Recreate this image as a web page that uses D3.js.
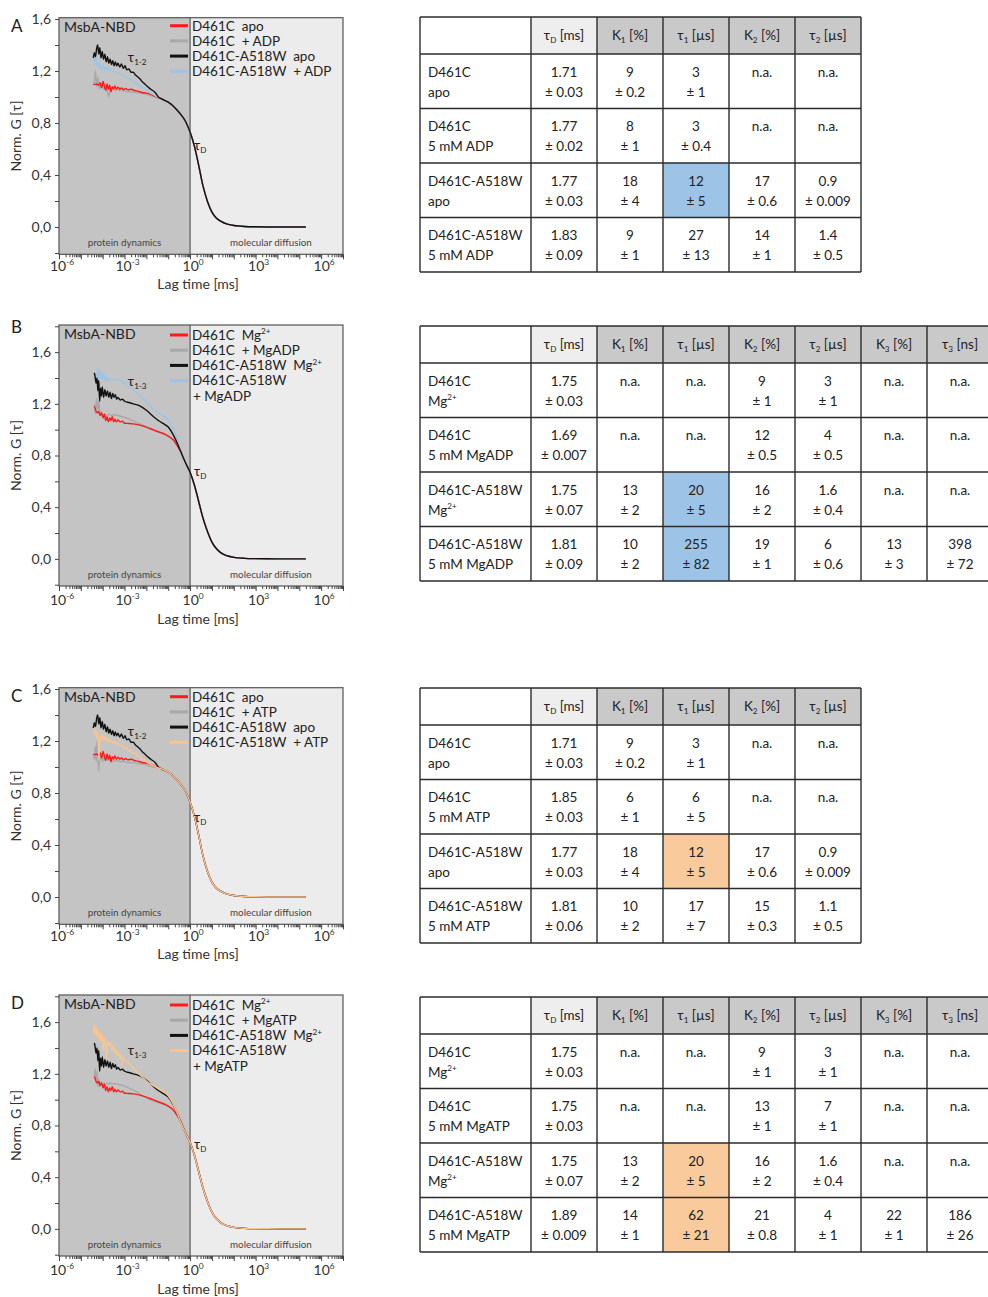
<!DOCTYPE html>
<html>
<head>
<meta charset="utf-8">
<script src="https://cdn.jsdelivr.net/npm/d3@7"></script>
<style>
  body { margin: 0; background: #fff; }
  svg { display: block; font-family: Lato, "Open Sans", sans-serif; }
  text { white-space: pre; }
</style>
</head>
<body>
<svg id="fig" width="988" height="1297"></svg>
<script>
// ---------------------------------------------------------------
// FCS autocorrelation curves: points are [log10(lag / ms), norm. G]
// ---------------------------------------------------------------

// shared diffusion decay (ADP / ATP panels, no Mg2+)
const tailApo = [[-1.3,0.985],[-1.0,0.96],[-0.8,0.935],[-0.6,0.9],[-0.4,0.86],[-0.2,0.81],[0,0.73],[0.2,0.62],[0.4,0.47],[0.6,0.31],[0.8,0.195],[1.0,0.115],[1.2,0.07],[1.4,0.045],[1.7,0.022],[2.0,0.012],[2.5,0.004],[3.0,0.0015],[4.0,0],[5.3,0]];
// shared diffusion decay (Mg2+ panels)
const tailMg = [[-0.2,0.74],[0,0.67],[0.2,0.57],[0.4,0.44],[0.6,0.31],[0.8,0.21],[1.0,0.13],[1.2,0.08],[1.4,0.048],[1.7,0.024],[2.0,0.012],[2.5,0.004],[3.0,0.0015],[4.0,0],[5.3,0]];

const d461cApo = [[-4.43,1.10],[-4.35,1.095],[-4.28,1.10],[-4.2,1.09],[-4.12,1.11],[-4.05,1.07],[-3.98,1.12],[-3.92,1.08],[-3.86,1.05],[-3.8,1.10],[-3.74,1.06],[-3.68,1.09],[-3.62,1.04],[-3.56,1.08],[-3.5,1.06],[-3.44,1.085],[-3.38,1.06],[-3.3,1.075],[-3.22,1.06],[-3.14,1.07],[-3.05,1.055],[-2.95,1.065],[-2.85,1.055],[-2.7,1.06],[-2.55,1.05],[-2.4,1.045],[-2.2,1.035],[-2.0,1.03],[-1.8,1.02],[-1.6,1.005],[-1.45,0.995]].concat(tailApo);

const d461cADP = [[-4.43,1.09],[-4.38,1.12],[-4.33,1.2],[-4.28,1.08],[-4.22,1.15],[-4.16,1.06],[-4.1,1.1],[-4.02,1.08],[-3.95,1.06],[-3.88,1.1],[-3.8,1.05],[-3.72,1.0],[-3.65,1.08],[-3.58,1.06],[-3.5,1.07],[-3.42,1.05],[-3.34,1.06],[-3.25,1.05],[-3.15,1.055],[-3.0,1.045],[-2.85,1.04],[-2.7,1.04],[-2.5,1.035],[-2.3,1.03],[-2.1,1.025],[-1.9,1.015],[-1.7,1.005],[-1.5,0.995]].concat(tailApo);

const a518wApo = [[-4.43,1.30],[-4.38,1.34],[-4.33,1.31],[-4.28,1.37],[-4.23,1.40],[-4.18,1.33],[-4.13,1.38],[-4.08,1.30],[-4.02,1.35],[-3.96,1.29],[-3.9,1.33],[-3.84,1.27],[-3.78,1.31],[-3.72,1.26],[-3.66,1.29],[-3.6,1.25],[-3.54,1.28],[-3.48,1.24],[-3.42,1.27],[-3.36,1.24],[-3.3,1.26],[-3.22,1.23],[-3.14,1.255],[-3.06,1.22],[-2.98,1.24],[-2.9,1.21],[-2.8,1.215],[-2.7,1.19],[-2.6,1.19],[-2.5,1.17],[-2.4,1.155],[-2.3,1.14],[-2.2,1.12],[-2.07,1.10],[-1.95,1.08],[-1.8,1.06],[-1.6,1.035],[-1.45,1.0]].concat(tailApo);

const a518wADP = [[-4.43,1.30],[-4.38,1.27],[-4.33,1.32],[-4.28,1.24],[-4.22,1.27],[-4.16,1.22],[-4.1,1.25],[-4.04,1.21],[-3.98,1.24],[-3.92,1.21],[-3.85,1.23],[-3.78,1.2],[-3.7,1.215],[-3.6,1.2],[-3.45,1.195],[-3.3,1.185],[-3.1,1.17],[-2.9,1.15],[-2.7,1.13],[-2.5,1.11],[-2.3,1.085],[-2.1,1.065],[-1.9,1.04],[-1.7,1.02],[-1.5,1.0]].concat(tailApo);

const d461cATP = [[-4.43,1.10],[-4.38,1.06],[-4.34,1.16],[-4.3,1.04],[-4.26,1.20],[-4.22,1.08],[-4.18,0.97],[-4.14,1.12],[-4.1,1.05],[-4.05,1.09],[-4.0,1.04],[-3.94,1.08],[-3.88,1.05],[-3.8,1.07],[-3.72,1.05],[-3.64,1.06],[-3.56,1.04],[-3.48,1.055],[-3.4,1.045],[-3.3,1.05],[-3.2,1.04],[-3.05,1.045],[-2.9,1.035],[-2.7,1.035],[-2.5,1.03],[-2.3,1.025],[-2.1,1.02],[-1.9,1.01],[-1.7,1.0],[-1.5,0.995]].concat(tailApo);

const a518wATP = [[-4.43,1.28],[-4.38,1.25],[-4.33,1.30],[-4.28,1.22],[-4.22,1.27],[-4.17,1.05],[-4.13,1.24],[-4.08,1.21],[-4.02,1.25],[-3.96,1.2],[-3.9,1.235],[-3.84,1.2],[-3.78,1.22],[-3.7,1.19],[-3.62,1.21],[-3.54,1.18],[-3.46,1.2],[-3.38,1.17],[-3.3,1.185],[-3.2,1.16],[-3.1,1.165],[-3.0,1.14],[-2.9,1.15],[-2.8,1.12],[-2.7,1.13],[-2.6,1.10],[-2.5,1.11],[-2.4,1.08],[-2.3,1.085],[-2.2,1.06],[-2.1,1.055],[-2.0,1.04],[-1.85,1.025],[-1.7,1.01],[-1.5,0.995]].concat(tailApo);

const d461cMg = [[-4.38,1.18],[-4.32,1.15],[-4.25,1.13],[-4.18,1.14],[-4.12,1.11],[-4.05,1.13],[-3.98,1.09],[-3.92,1.12],[-3.86,1.07],[-3.8,1.10],[-3.74,1.06],[-3.68,1.09],[-3.62,1.07],[-3.56,1.10],[-3.5,1.06],[-3.44,1.08],[-3.38,1.06],[-3.3,1.075],[-3.2,1.06],[-3.1,1.065],[-3.0,1.05],[-2.8,1.048],[-2.6,1.045],[-2.3,1.035],[-2.0,1.02],[-1.7,1.0],[-1.4,0.98],[-1.1,0.96],[-0.8,0.925],[-0.6,0.88],[-0.45,0.835]].concat(tailMg);

const d461cMgADP = [[-4.38,1.20],[-4.33,1.12],[-4.28,1.24],[-4.23,1.15],[-4.18,1.22],[-4.12,1.12],[-4.06,1.14],[-4.0,1.11],[-3.9,1.12],[-3.8,1.11],[-3.7,1.12],[-3.6,1.11],[-3.5,1.115],[-3.3,1.11],[-3.1,1.10],[-2.9,1.09],[-2.7,1.075],[-2.5,1.06],[-2.3,1.045],[-2.1,1.03],[-1.9,1.012],[-1.7,0.995],[-1.4,0.98],[-1.1,0.962],[-0.8,0.925],[-0.6,0.88],[-0.45,0.835]].concat(tailMg);

const d461cMgATP = [[-4.38,1.18],[-4.34,1.24],[-4.3,1.12],[-4.26,1.22],[-4.22,1.10],[-4.18,1.16],[-4.13,1.10],[-4.08,1.14],[-4.02,1.11],[-3.95,1.13],[-3.88,1.115],[-3.8,1.13],[-3.72,1.12],[-3.64,1.13],[-3.55,1.12],[-3.45,1.125],[-3.35,1.12],[-3.2,1.115],[-3.0,1.105],[-2.8,1.09],[-2.6,1.075],[-2.4,1.055],[-2.2,1.035],[-2.0,1.015],[-1.8,0.997],[-1.5,0.98],[-1.2,0.962],[-1.0,0.95],[-0.8,0.925],[-0.6,0.88],[-0.45,0.835]].concat(tailMg);

const a518wMg = [[-4.38,1.44],[-4.34,1.40],[-4.3,1.36],[-4.26,1.40],[-4.22,1.30],[-4.18,1.38],[-4.14,1.22],[-4.1,1.32],[-4.06,1.26],[-4.02,1.33],[-3.96,1.25],[-3.9,1.31],[-3.84,1.26],[-3.78,1.30],[-3.72,1.25],[-3.66,1.29],[-3.6,1.24],[-3.54,1.28],[-3.48,1.25],[-3.42,1.27],[-3.36,1.235],[-3.3,1.25],[-3.2,1.23],[-3.1,1.235],[-3.0,1.22],[-2.8,1.21],[-2.6,1.20],[-2.3,1.185],[-2.0,1.15],[-1.8,1.12],[-1.6,1.09],[-1.4,1.065],[-1.2,1.045],[-1.0,1.02],[-0.8,0.97],[-0.6,0.9],[-0.45,0.84]].concat(tailMg);

const a518wMgADP = [[-4.38,1.45],[-4.34,1.40],[-4.3,1.43],[-4.26,1.39],[-4.22,1.48],[-4.18,1.40],[-4.14,1.46],[-4.1,1.39],[-4.05,1.44],[-4.0,1.39],[-3.95,1.43],[-3.9,1.38],[-3.84,1.42],[-3.78,1.38],[-3.7,1.39],[-3.55,1.385],[-3.4,1.39],[-3.2,1.38],[-3.0,1.36],[-2.8,1.33],[-2.6,1.31],[-2.4,1.28],[-2.2,1.25],[-2.0,1.215],[-1.8,1.18],[-1.6,1.15],[-1.4,1.125],[-1.2,1.105],[-1.0,1.08],[-0.8,1.02],[-0.6,0.93],[-0.45,0.845]].concat(tailMg);

const a518wMgATP = [[-4.43,1.52],[-4.39,1.58],[-4.35,1.50],[-4.31,1.56],[-4.27,1.49],[-4.22,1.54],[-4.17,1.47],[-4.12,1.52],[-4.07,1.45],[-4.02,1.50],[-3.97,1.38],[-3.92,1.48],[-3.87,1.44],[-3.82,1.32],[-3.77,1.45],[-3.7,1.42],[-3.64,1.44],[-3.58,1.38],[-3.52,1.42],[-3.46,1.36],[-3.4,1.39],[-3.34,1.34],[-3.28,1.37],[-3.22,1.32],[-3.16,1.35],[-3.1,1.26],[-3.05,1.33],[-3.0,1.31],[-2.8,1.28],[-2.6,1.245],[-2.4,1.21],[-2.2,1.175],[-2.0,1.145],[-1.8,1.12],[-1.6,1.10],[-1.4,1.08],[-1.2,1.06],[-1.0,1.03],[-0.8,0.975],[-0.6,0.9],[-0.45,0.835]].concat(tailMg);

// line colours
const cRed = "#ff1a1a", cGray = "#a8a8a8", cBlack = "#111111", cBlue = "#9cc4e8", cOrange = "#f9c48f";

// axis ticks
const xLabelExps = [-6, -3, 0, 3, 6];

// ---------------------------------------------------------------
// fit-parameter tables
// ---------------------------------------------------------------
const headShort = ["τ_{D} [ms]", "K_{1} [%]", "τ_{1} [µs]", "K_{2} [%]", "τ_{2} [µs]"];
const headLong = headShort.concat(["K_{3} [%]", "τ_{3} [ns]"]);

const rowsA = [["D461C", "apo"], ["D461C", "5 mM ADP"], ["D461C-A518W", "apo"], ["D461C-A518W", "5 mM ADP"]];
const rowsB = [["D461C", "Mg^{2+}"], ["D461C", "5 mM MgADP"], ["D461C-A518W", "Mg^{2+}"], ["D461C-A518W", "5 mM MgADP"]];
const rowsC = [["D461C", "apo"], ["D461C", "5 mM ATP"], ["D461C-A518W", "apo"], ["D461C-A518W", "5 mM ATP"]];
const rowsD = [["D461C", "Mg^{2+}"], ["D461C", "5 mM MgATP"], ["D461C-A518W", "Mg^{2+}"], ["D461C-A518W", "5 mM MgATP"]];

const valsA = [
  [["1.71", "± 0.03"], ["9", "± 0.2"], ["3", "± 1"], ["n.a."], ["n.a."]],
  [["1.77", "± 0.02"], ["8", "± 1"], ["3", "± 0.4"], ["n.a."], ["n.a."]],
  [["1.77", "± 0.03"], ["18", "± 4"], ["12", "± 5"], ["17", "± 0.6"], ["0.9", "± 0.009"]],
  [["1.83", "± 0.09"], ["9", "± 1"], ["27", "± 13"], ["14", "± 1"], ["1.4", "± 0.5"]]
];
const valsB = [
  [["1.75", "± 0.03"], ["n.a."], ["n.a."], ["9", "± 1"], ["3", "± 1"], ["n.a."], ["n.a."]],
  [["1.69", "± 0.007"], ["n.a."], ["n.a."], ["12", "± 0.5"], ["4", "± 0.5"], ["n.a."], ["n.a."]],
  [["1.75", "± 0.07"], ["13", "± 2"], ["20", "± 5"], ["16", "± 2"], ["1.6", "± 0.4"], ["n.a."], ["n.a."]],
  [["1.81", "± 0.09"], ["10", "± 2"], ["255", "± 82"], ["19", "± 1"], ["6", "± 0.6"], ["13", "± 3"], ["398", "± 72"]]
];
const valsC = [
  [["1.71", "± 0.03"], ["9", "± 0.2"], ["3", "± 1"], ["n.a."], ["n.a."]],
  [["1.85", "± 0.03"], ["6", "± 1"], ["6", "± 5"], ["n.a."], ["n.a."]],
  [["1.77", "± 0.03"], ["18", "± 4"], ["12", "± 5"], ["17", "± 0.6"], ["0.9", "± 0.009"]],
  [["1.81", "± 0.06"], ["10", "± 2"], ["17", "± 7"], ["15", "± 0.3"], ["1.1", "± 0.5"]]
];
const valsD = [
  [["1.75", "± 0.03"], ["n.a."], ["n.a."], ["9", "± 1"], ["3", "± 1"], ["n.a."], ["n.a."]],
  [["1.75", "± 0.03"], ["n.a."], ["n.a."], ["13", "± 1"], ["7", "± 1"], ["n.a."], ["n.a."]],
  [["1.75", "± 0.07"], ["13", "± 2"], ["20", "± 5"], ["16", "± 2"], ["1.6", "± 0.4"], ["n.a."], ["n.a."]],
  [["1.89", "± 0.009"], ["14", "± 1"], ["62", "± 21"], ["21", "± 0.8"], ["4", "± 1"], ["22", "± 1"], ["186", "± 26"]]
];

// ---------------------------------------------------------------
const svg = d3.select("#fig");

// "Mg^{2+}" / "τ_{D}" -> tspans with super/subscripts
function parseRich(s) {
  const out = [], re = /(\^|_)\{([^}]*)\}/g;
  let last = 0, m;
  while ((m = re.exec(s))) {
    if (m.index > last) out.push({ t: s.slice(last, m.index) });
    out.push({ t: m[2], sup: m[1] === "^", sub: m[1] === "_" });
    last = re.lastIndex;
  }
  if (last < s.length) out.push({ t: s.slice(last) });
  return out;
}
function rich(textSel, s, fs) {
  let shift = 0;
  parseRich(s).forEach(p => {
    const target = p.sup ? -0.42 * fs : p.sub ? 0.22 * fs : 0;
    const ts = textSel.append("tspan").text(p.t).attr("dy", target - shift);
    if (p.sup || p.sub) ts.attr("font-size", fs * 0.6);
    shift = target;
  });
  return textSel;
}

// ---------------------------------------------------------------
// correlation panel
// ---------------------------------------------------------------
function drawPanel(cfg) {
  const L = 59, R = 343;
  const x = d3.scaleLog().domain([1e-6, 1e7]).range([L, R]);
  const y = d3.scaleLinear().domain([-0.21, cfg.yMax]).range([cfg.bottom, cfg.top]);
  const g = svg.append("g");
  const fs = 13.5;

  // regions: protein dynamics / molecular diffusion
  g.append("rect").attr("x", L).attr("y", cfg.top).attr("width", x(1) - L).attr("height", cfg.bottom - cfg.top).attr("fill", "#c4c4c4");
  g.append("rect").attr("x", x(1)).attr("y", cfg.top).attr("width", R - x(1)).attr("height", cfg.bottom - cfg.top).attr("fill", "#ececec");
  g.append("line").attr("x1", x(1)).attr("x2", x(1)).attr("y1", cfg.top).attr("y2", cfg.bottom).attr("stroke", "#5a5a5a").attr("stroke-width", 1.2);

  g.append("text").attr("x", x(Math.pow(10, -3.0))).attr("y", cfg.bottom - 8).attr("text-anchor", "middle")
    .attr("font-size", 9.8).attr("fill", "#444").text("protein dynamics");
  g.append("text").attr("x", x(Math.pow(10, 3.7))).attr("y", cfg.bottom - 8).attr("text-anchor", "middle")
    .attr("font-size", 9.8).attr("fill", "#444").text("molecular diffusion");

  // curves
  const line = d3.line()
    .x(d => x(Math.pow(10, d[0])))
    .y(d => y(d[1]))
    .curve(d3.curveMonotoneX);
  cfg.series.forEach(s => {
    g.append("path").attr("d", line(s.data)).attr("fill", "none")
      .attr("stroke", s.color).attr("stroke-width", 1.4).attr("stroke-linejoin", "round");
  });

  // frame
  g.append("rect").attr("x", L).attr("y", cfg.top).attr("width", R - L).attr("height", cfg.bottom - cfg.top)
    .attr("fill", "none").attr("stroke", "#555").attr("stroke-width", 1.2);

  // y axis
  const yTicks = d3.range(-0.2, cfg.yMax + 0.001, 0.2).map(v => Math.round(v * 10) / 10);
  const yAxis = d3.axisLeft(y).tickValues(yTicks).tickSize(4).tickPadding(4)
    .tickFormat(v => (v >= 0 && Math.round(v * 10) % 4 === 0) ? d3.format(".1f")(v).replace(".", ",") : "");
  const ya = g.append("g").attr("transform", `translate(${L},0)`).call(yAxis);
  ya.select(".domain").remove();
  ya.selectAll("line").attr("stroke", "#444");
  ya.selectAll("text").attr("font-size", 14).attr("fill", "#333").attr("font-family", "Lato, sans-serif");

  // x axis: minor ticks on every 1..9 x decade, labels every 3 decades
  const minor = [];
  for (let e = -6; e < 7; e++) for (let k = 2; k <= 9; k++) minor.push(k * Math.pow(10, e));
  const majors = d3.range(-6, 8).map(e => Math.pow(10, e));
  const xa1 = g.append("g").attr("transform", `translate(0,${cfg.bottom})`)
    .call(d3.axisBottom(x).tickValues(minor).tickSize(3).tickFormat(""));
  const xa2 = g.append("g").attr("transform", `translate(0,${cfg.bottom})`)
    .call(d3.axisBottom(x).tickValues(majors).tickSize(5).tickFormat(""));
  [xa1, xa2].forEach(a => { a.select(".domain").remove(); a.selectAll("line").attr("stroke", "#444"); });

  xLabelExps.forEach(e => {
    const t = g.append("text").attr("x", x(Math.pow(10, e)) + 3).attr("y", cfg.bottom + cfg.tickLabelDy)
      .attr("text-anchor", "middle").attr("font-size", 14).attr("fill", "#333");
    rich(t, `10^{${e}}`, 14);
  });
  g.append("text").attr("x", 198).attr("y", cfg.bottom + cfg.titleDy).attr("text-anchor", "middle")
    .attr("font-size", 14).attr("fill", "#333").text("Lag time [ms]");
  const cy = (cfg.top + cfg.bottom) / 2;
  g.append("text").attr("transform", `translate(21,${cy}) rotate(-90)`).attr("text-anchor", "middle")
    .attr("font-size", 14).attr("fill", "#333").text("Norm. G [τ]");

  // panel letter
  g.append("text").attr("x", 11).attr("y", cfg.letterY).attr("font-size", 17).attr("fill", "#222").text(cfg.letter);

  g.append("text").attr("x", 64).attr("y", cfg.top + 14).attr("font-size", 14).attr("fill", "#222").text("MsbA-NBD");

  // tau annotations
  rich(g.append("text").attr("x", x(Math.pow(10, -2.85))).attr("y", y(cfg.tauFastG) + 4)
    .attr("font-size", fs).attr("fill", "#222"), cfg.tauFast, fs);
  rich(g.append("text").attr("x", x(Math.pow(10, 0.18))).attr("y", y(cfg.tauDG) + 4)
    .attr("font-size", fs).attr("fill", "#222"), "τ_{D}", fs);

  // legend
  let ly = cfg.legendY;
  cfg.legend.forEach(it => {
    if (it.color) {
      g.append("line").attr("x1", 170).attr("x2", 188).attr("y1", ly).attr("y2", ly)
        .attr("stroke", it.color).attr("stroke-width", 3);
    }
    rich(g.append("text").attr("x", it.color ? 192 : 193).attr("y", ly + 4.8)
      .attr("font-size", fs).attr("fill", "#222"), it.text, fs);
    ly += 15.2;
  });
}

// ---------------------------------------------------------------
// parameter table
// ---------------------------------------------------------------
const colEdges = [420, 531, 597, 663, 729, 795, 861, 927, 993];
function drawTable(top, heads, rows, vals, hiCells, hiColor) {
  const g = svg.append("g");
  const headH = 37, rowH = 54.5, fs = 13.5;
  const nCols = heads.length + 1;
  const right = colEdges[nCols];
  const bottom = top + headH + rowH * rows.length;

  // header fills
  heads.forEach((h, i) => {
    g.append("rect").attr("x", colEdges[i + 1]).attr("y", top).attr("width", colEdges[i + 2] - colEdges[i + 1])
      .attr("height", headH).attr("fill", i === 0 ? "#eeeeee" : "#c9c9c9");
  });
  // highlighted cells
  hiCells.forEach(([r, c]) => {
    g.append("rect").attr("x", colEdges[c + 1]).attr("y", top + headH + r * rowH)
      .attr("width", colEdges[c + 2] - colEdges[c + 1]).attr("height", rowH).attr("fill", hiColor);
  });

  // grid
  const stroke = "#2b2b2b";
  for (let r = 0; r <= rows.length + 1; r++) {
    const yy = r === 0 ? top : top + headH + (r - 1) * rowH;
    g.append("line").attr("x1", colEdges[0]).attr("x2", right).attr("y1", yy).attr("y2", yy)
      .attr("stroke", stroke).attr("stroke-width", 1.4);
  }
  for (let c = 0; c <= nCols; c++) {
    g.append("line").attr("x1", colEdges[c]).attr("x2", colEdges[c]).attr("y1", top).attr("y2", bottom)
      .attr("stroke", stroke).attr("stroke-width", 1.4);
  }

  // header text
  heads.forEach((h, i) => {
    const cx = (colEdges[i + 1] + colEdges[i + 2]) / 2;
    rich(g.append("text").attr("x", cx).attr("y", top + headH / 2 + 4.8).attr("text-anchor", "middle")
      .attr("font-size", fs).attr("fill", "#222"), h, fs);
  });
  // rows
  rows.forEach((lab, r) => {
    const rt = top + headH + r * rowH;
    lab.forEach((s, k) => {
      rich(g.append("text").attr("x", colEdges[0] + 8).attr("y", rt + 18 + k * 20 + 4.8)
        .attr("font-size", fs).attr("fill", "#222"), s, fs);
    });
    vals[r].forEach((v, c) => {
      const cx = (colEdges[c + 1] + colEdges[c + 2]) / 2;
      v.forEach((s, k) => {
        g.append("text").attr("x", cx).attr("y", rt + 18 + k * 20 + 4.8).attr("text-anchor", "middle")
          .attr("font-size", fs).attr("fill", "#222").text(s);
      });
    });
  });
}

// ---------------------------------------------------------------
drawPanel({
  letter: "A", letterY: 32, top: 17.7, bottom: 254.3, yMax: 1.61, tickLabelDy: 17, titleDy: 35,
  series: [{ data: d461cADP, color: cGray }, { data: d461cApo, color: cRed }, { data: a518wADP, color: cBlue }, { data: a518wApo, color: cBlack }],
  legendY: 25.7,
  legend: [{ color: cRed, text: "D461C  apo" }, { color: cGray, text: "D461C  + ADP" }, { color: cBlack, text: "D461C-A518W  apo" }, { color: cBlue, text: "D461C-A518W  + ADP" }],
  tauFast: "τ_{1-2}", tauFastG: 1.30, tauDG: 0.62
});
drawPanel({
  letter: "B", letterY: 333, top: 325, bottom: 586, yMax: 1.81, tickLabelDy: 19, titleDy: 38,
  series: [{ data: d461cMgADP, color: cGray }, { data: d461cMg, color: cRed }, { data: a518wMgADP, color: cBlue }, { data: a518wMg, color: cBlack }],
  legendY: 335,
  legend: [{ color: cRed, text: "D461C  Mg^{2+}" }, { color: cGray, text: "D461C  + MgADP" }, { color: cBlack, text: "D461C-A518W  Mg^{2+}" }, { color: cBlue, text: "D461C-A518W" }, { color: null, text: "+ MgADP" }],
  tauFast: "τ_{1-3}", tauFastG: 1.37, tauDG: 0.67
});
drawPanel({
  letter: "C", letterY: 702, top: 687.7, bottom: 924.3, yMax: 1.61, tickLabelDy: 17, titleDy: 35,
  series: [{ data: d461cATP, color: cGray }, { data: d461cApo, color: cRed }, { data: a518wApo, color: cBlack }, { data: a518wATP, color: cOrange }],
  legendY: 696.7,
  legend: [{ color: cRed, text: "D461C  apo" }, { color: cGray, text: "D461C  + ATP" }, { color: cBlack, text: "D461C-A518W  apo" }, { color: cOrange, text: "D461C-A518W  + ATP" }],
  tauFast: "τ_{1-2}", tauFastG: 1.27, tauDG: 0.61
});
drawPanel({
  letter: "D", letterY: 1009, top: 995, bottom: 1256, yMax: 1.81, tickLabelDy: 19, titleDy: 38,
  series: [{ data: d461cMgATP, color: cGray }, { data: d461cMg, color: cRed }, { data: a518wMg, color: cBlack }, { data: a518wMgATP, color: cOrange }],
  legendY: 1005,
  legend: [{ color: cRed, text: "D461C  Mg^{2+}" }, { color: cGray, text: "D461C  + MgATP" }, { color: cBlack, text: "D461C-A518W  Mg^{2+}" }, { color: cOrange, text: "D461C-A518W" }, { color: null, text: "+ MgATP" }],
  tauFast: "τ_{1-3}", tauFastG: 1.38, tauDG: 0.65
});

const blueHi = "#9dc3e6", orangeHi = "#f9cb9c";
drawTable(17, headShort, rowsA, valsA, [[2, 2]], blueHi);
drawTable(326, headLong, rowsB, valsB, [[2, 2], [3, 2]], blueHi);
drawTable(688, headShort, rowsC, valsC, [[2, 2]], orangeHi);
drawTable(997, headLong, rowsD, valsD, [[2, 2], [3, 2]], orangeHi);
</script>
</body>
</html>
